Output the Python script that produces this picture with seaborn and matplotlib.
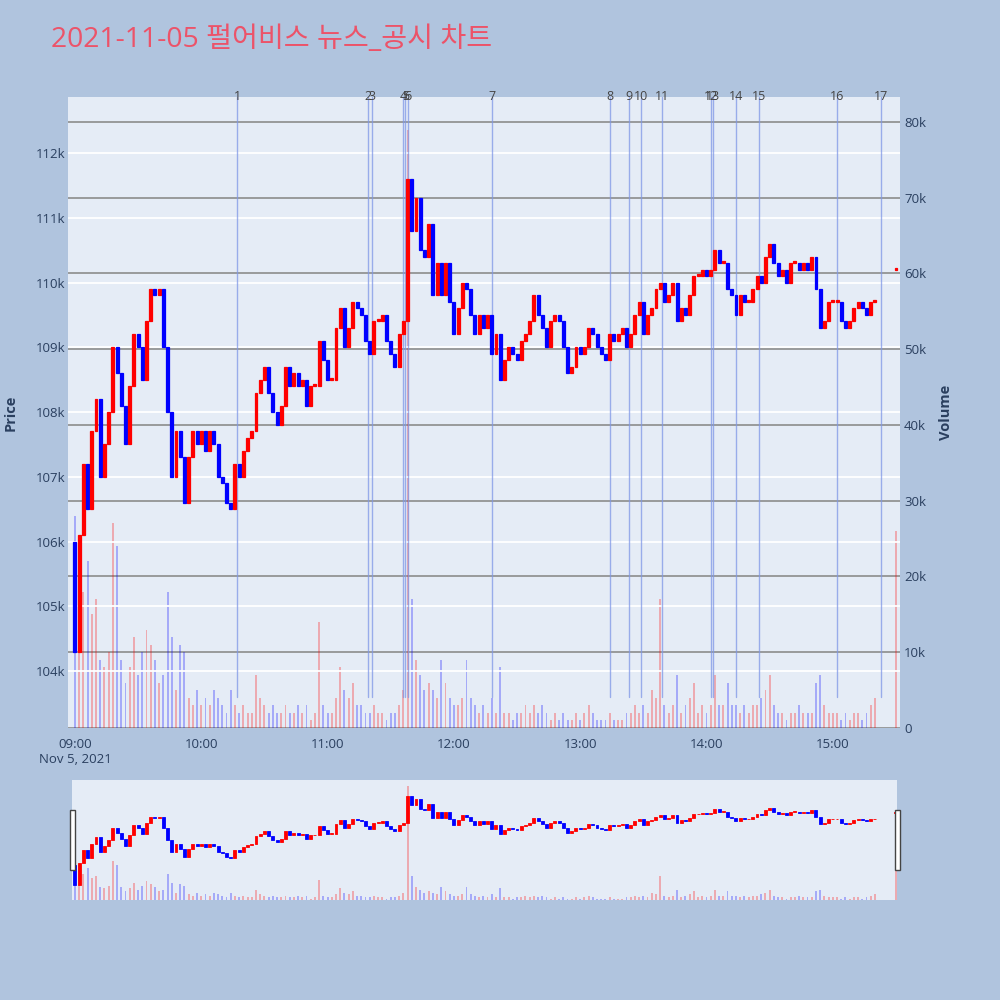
import matplotlib
matplotlib.use("Agg")
import matplotlib.pyplot as plt
import matplotlib.transforms as mtransforms
from matplotlib.ticker import FuncFormatter, MultipleLocator
from matplotlib.patches import Rectangle
import numpy as np
import pandas as pd
import seaborn as sns

# ---- data (2-minute candles) ----
title = "2021-11-05 펄어비스 뉴스_공시 차트"
session_start = "2021-11-05 09:00"
first_open = 106000
closes = [
    104300, 106100, 107200, 106500, 107700, 108200, 107000, 107500, 108000, 109000,
    108600, 108100, 107500, 108400, 109200, 109000, 108500, 109400, 109900, 109800,
    109900, 109000, 108000, 107000, 107700, 107300, 106600, 107300, 107700, 107500,
    107700, 107400, 107700, 107500, 107000, 106900, 106600, 106500, 107200, 107000,
    107400, 107600, 107700, 108300, 108500, 108700, 108300, 108000, 107800, 108100,
    108700, 108400, 108600, 108400, 108500, 108100, 108400, 108400, 109100, 108800,
    108500, 108500, 109300, 109600, 109000, 109300, 109700, 109600, 109500, 109100,
    108900, 109400, 109400, 109500, 109100, 108900, 108700, 109200, 109400, 111600,
    110800, 111300, 110500, 110400, 110900, 109800, 110300, 109800, 110300, 109700,
    109200, 109600, 110000, 109900, 109500, 109200, 109500, 109300, 109500, 108900,
    109200, 108500, 108800, 109000, 108900, 108800, 109100, 109200, 109400, 109800,
    109500, 109300, 109000, 109400, 109500, 109400, 109000, 108600, 108700, 109000,
    108900, 109000, 109300, 109200, 109000, 108900, 108800, 109200, 109100, 109200,
    109300, 109000, 109200, 109500, 109700, 109200, 109500, 109600, 109900, 110000,
    109700, 109800, 110000, 109400, 109600, 109500, 109800, 110100, 110100, 110200,
    110100, 110200, 110500, 110300, 110300, 109900, 109800, 109500, 109800, 109700,
    109700, 109900, 110100, 110000, 110400, 110600, 110300, 110100, 110200, 110000,
    110300, 110300, 110200, 110300, 110200, 110400, 109900, 109300, 109400, 109700,
    109700, 109700, 109400, 109300, 109400, 109600, 109700, 109600, 109500, 109700,
    109700,
]
volumes_k = [
    28, 24, 18, 22, 15, 17, 9, 8, 10, 27,
    24, 9, 6, 8, 12, 7, 10, 13, 11, 9,
    6, 7, 18, 12, 5, 11, 10, 4, 3, 5,
    3, 4, 3, 5, 4, 3, 2, 5, 3, 2,
    3, 2, 2, 7, 4, 3, 2, 3, 2, 2,
    3, 2, 2, 3, 2, 3, 1, 2, 14, 3,
    2, 2, 4, 8, 5, 4, 6, 3, 3, 2,
    2, 3, 2, 2, 1, 2, 2, 3, 5, 79,
    17, 9, 7, 5, 6, 5, 4, 9, 6, 4,
    3, 3, 4, 9, 4, 3, 2, 3, 2, 4,
    2, 8, 2, 2, 1, 2, 2, 3, 2, 3,
    2, 3, 2, 1, 2, 1, 2, 1, 1, 2,
    1, 2, 3, 2, 1, 1, 1, 2, 1, 1,
    1, 2, 2, 3, 2, 3, 2, 5, 4, 17,
    3, 2, 3, 7, 2, 3, 4, 6, 2, 3,
    2, 3, 7, 3, 3, 6, 3, 3, 2, 3,
    2, 3, 3, 4, 5, 7, 3, 2, 2, 1,
    2, 2, 3, 2, 2, 2, 6, 7, 3, 2,
    2, 2, 1, 2, 1, 2, 2, 1, 2, 3,
    4,
]
auction_time = "2021-11-05 15:30"
auction_price = 110200
auction_volume_k = 26

news_times = ["10:17", "11:19", "11:21", "11:36", "11:37", "11:38", "12:18", "13:14", "13:23",
              "13:29", "13:39", "14:02", "14:03", "14:14", "14:25", "15:02", "15:23"]
news_labels = [str(n) for n in range(1, len(news_times) + 1)]
hour_ticks = ["09:00", "10:00", "11:00", "12:00", "13:00", "14:00", "15:00"]

# ---- frame ----
df = pd.DataFrame({
    "time": pd.date_range(session_start, periods=len(closes), freq="2min"),
    "open": [first_open] + closes[:-1],
    "close": closes,
    "volume": np.array(volumes_k) * 1000,
})
df = pd.concat([df, pd.DataFrame({"time": [pd.Timestamp(auction_time)], "open": [auction_price],
                                  "close": [auction_price], "volume": [auction_volume_k * 1000]})],
               ignore_index=True)
df["up"] = df["close"] >= df["open"]

day = pd.Timestamp("2021-11-05")
news_ts = [pd.Timestamp(f"2021-11-05 {t}") for t in news_times]

RED, BLUE = "#FF0000", "#0000FF"
BG, PAPER = "#E5ECF6", "#B0C4DE"
TXT = "#2a3f5f"

sns.set_theme(style="darkgrid", rc={"axes.facecolor": BG, "figure.facecolor": PAPER})
plt.rcParams["font.family"] = ["Open Sans", "Noto Sans CJK KR", "DejaVu Sans"]

P_LO, P_HI = 103120, 112865
V_HI = 83300
minute = 1 / 1440


def draw(ax_p, ax_v, body_w, vol_w, lw):
    colors = np.where(df["up"], RED, BLUE)
    height = (df["close"] - df["open"]).abs().clip(lower=30)
    bottom = df[["open", "close"]].min(axis=1)
    ax_v.bar(df["time"], df["volume"], width=vol_w * minute, color=colors, alpha=0.28, linewidth=0)
    ax_p.bar(df["time"], height, bottom=bottom, width=body_w * minute, color=colors,
             edgecolor=colors, linewidth=lw, zorder=3)
    ax_p.set_ylim(P_LO, P_HI)
    ax_v.set_ylim(0, V_HI)


fig = plt.figure(figsize=(10, 10), dpi=100)
fig.patch.set_facecolor(PAPER)

# main panel
ax = fig.add_axes([0.068, 0.272, 0.832, 0.631])
axv = ax.twinx()
ax.set_zorder(axv.get_zorder() + 1)
ax.patch.set_visible(False)
axv.patch.set_visible(True)
axv.patch.set_facecolor(BG)
draw(ax, axv, 1.4, 0.9, 0.9)

x0 = day + pd.Timedelta(hours=9) - pd.Timedelta(minutes=3.3)
x1 = day + pd.Timedelta(hours=9) + pd.Timedelta(minutes=391.9)
ax.set_xlim(x0, x1)

for t, lab in zip(news_ts, news_labels):
    ax.axvline(t, ymin=0.049, ymax=1, color="#7f97e6", alpha=0.75, lw=1, zorder=2)
    ax.text(t, 1.0, lab, transform=mtransforms.blended_transform_factory(ax.transData, ax.transAxes),
            ha="center", va="center", fontsize=9, color="#444444")

ax.yaxis.set_major_locator(MultipleLocator(1000))
ax.yaxis.set_major_formatter(FuncFormatter(lambda v, p: f"{v / 1000:.0f}k"))
ax.grid(True, axis="y", color="white", lw=1.3)
ax.grid(False, axis="x")
ax.tick_params(axis="y", length=0, labelsize=9.5, labelcolor=TXT, pad=2)
ax.set_ylabel("Price", fontsize=10.5, fontweight="bold", color=TXT, labelpad=13)

axv.yaxis.set_major_locator(MultipleLocator(10000))
axv.yaxis.set_major_formatter(FuncFormatter(lambda v, p: "0" if v == 0 else f"{v / 1000:.0f}k"))
axv.grid(True, axis="y", color="#8c8c8c", lw=1.2)
axv.grid(False, axis="x")
axv.tick_params(axis="y", length=0, labelsize=9.5, labelcolor=TXT, pad=3)
axv.set_ylabel("Volume", fontsize=10.5, fontweight="bold", color=TXT, labelpad=9)

ticks = [pd.Timestamp(f"2021-11-05 {h}") for h in hour_ticks]
ax.set_xticks(ticks)
ax.set_xticklabels([hour_ticks[0] + "\nNov 5, 2021"] + hour_ticks[1:])
ax.tick_params(axis="x", length=0, labelsize=9.5, labelcolor=TXT, pad=7)
for a in (ax, axv):
    for s in a.spines.values():
        s.set_visible(False)

# range slider
sl = fig.add_axes([0.072, 0.100, 0.825, 0.120])
slv = sl.twinx()
sl.set_zorder(slv.get_zorder() + 1)
sl.patch.set_visible(False)
slv.patch.set_visible(True)
slv.patch.set_facecolor(BG)
draw(sl, slv, 1.4, 0.9, 0.6)
sl.set_xlim(day + pd.Timedelta(hours=9) - pd.Timedelta(minutes=1.4),
            day + pd.Timedelta(hours=9) + pd.Timedelta(minutes=390.5))
for a in (sl, slv):
    a.set_xticks([])
    a.set_yticks([])
    a.grid(False)
    for s in a.spines.values():
        s.set_visible(False)

for hx in (0.0695, 0.8945):
    fig.patches.append(Rectangle((hx, 0.130), 0.005, 0.060, transform=fig.transFigure,
                                 facecolor="white", edgecolor="#444444", lw=1, zorder=10))

fig.text(0.051, 0.960, title, fontsize=20.3, color="#EC5369", ha="left", va="center")

fig.savefig("out.png", dpi=100, facecolor=PAPER)
